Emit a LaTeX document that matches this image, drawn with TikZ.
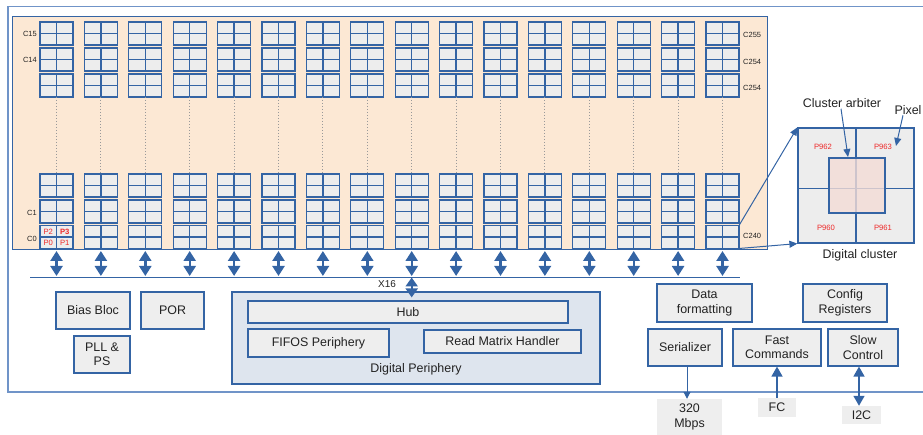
\documentclass[tikz,border=0pt]{standalone}
\usepackage{fontspec}
\setmainfont{Liberation Sans}
\usetikzlibrary{arrows.meta,calc}
\definecolor{bl}{HTML}{3464A4}
\definecolor{outerbl}{HTML}{7094C8}
\definecolor{peach}{HTML}{FCE8D4}
\definecolor{cellg}{HTML}{EDEDED}
\definecolor{boxg}{HTML}{EEEEEE}
\definecolor{dpf}{HTML}{DEE5EE}
\definecolor{pinkf}{HTML}{F4DCD6}
\definecolor{pred}{HTML}{EE2A2A}
\definecolor{txt}{HTML}{222222}
\begin{document}
\begin{tikzpicture}[x=1bp,y=-1bp,
  font=\fontsize{12.5}{14.5}\selectfont,
  box/.style={draw=bl, fill=boxg, line width=1.2bp, inner sep=0pt, align=center, text=txt},
  iobox/.style={fill=boxg, inner sep=0pt, align=center, text=txt},
  clus/.style={draw=bl, fill=cellg, line width=1.3bp, minimum width=33bp, minimum height=23bp, inner sep=0pt, outer sep=0pt,
    path picture={\draw[bl, line width=1.3bp] (path picture bounding box.north) -- (path picture bounding box.south)
      (path picture bounding box.west) -- (path picture bounding box.east);}},
  small/.style={font=\fontsize{7.5}{9}\selectfont, text=txt, inner sep=0pt},
  plab/.style={font=\fontsize{7.7}{9}\selectfont, text=pred, inner sep=0pt},
  dots/.style={draw=gray!80, line width=0.9bp, dash pattern=on 1bp off 2bp},
  dbl/.style={draw=bl, line width=2.4bp, {Triangle[width=12bp,length=10bp]}-{Triangle[width=12bp,length=10bp]}},
  dblsm/.style={draw=bl, line width=2.4bp, {Triangle[width=12bp,length=9bp]}-{Triangle[width=12bp,length=9bp]}},
  thinarr/.style={draw=bl, line width=1bp, -{Triangle[width=7bp,length=8bp]}},
  midarr/.style={draw=bl, line width=1.5bp, -{Triangle[width=11bp,length=10bp]}},
  middbl/.style={draw=bl, line width=1.5bp, {Triangle[width=11bp,length=10bp]}-{Triangle[width=11bp,length=10bp]}},
]
\useasboundingbox (0,0) rectangle (923,435);
% outer frame
\draw[draw=outerbl, line width=1.5bp] (923,6.5) -- (8,6.5) -- (8,392) -- (923,392);
% matrix area
\node[draw=bl, fill=peach, line width=1bp, minimum width=754bp, minimum height=233bp, inner sep=0pt] (mat) at (390,133.5) {};
% clusters
\foreach \i in {0,...,15}{
  \foreach \r/\yc in {0/33.5,1/59.5,2/85.5,3/185.5,4/211.5,5/237}{
    \node[clus] (c\i-\r) at ({56.5+44.4*\i},\yc) {};
  }
  \draw[dots] (c\i-2.south) -- (c\i-3.north);
  \coordinate (b\i) at ({56.5+44.4*\i},276);
  \draw[dbl, shorten <=2.5bp] (c\i-5.south) -- (b\i);
}
% row labels
\node[small, anchor=east] (l15) at (37,33.5) {C15};
\node[small, anchor=east] (l14) at (37,59.5) {C14};
\node[small, anchor=east] (l1) at (37,213) {C1};
\node[small, anchor=east] (l0) at (37,239) {C0};
\node[small, anchor=west] (r255) at (743,35) {C255};
\node[small, anchor=west] (r254a) at (743,61.5) {C254};
\node[small, anchor=west] (r254b) at (743,87.5) {C254};
\node[small, anchor=west] (r240) at (743,236) {C240};
% pixel labels in C0
\node[plab] (p2) at ($(c0-5.center)+(-8.25,-5.5)$) {P2};
\node[plab, font=\fontsize{7.7}{9}\selectfont\bfseries] (p3) at ($(c0-5.center)+(8.25,-5.5)$) {P3};
\node[plab] (p0) at ($(c0-5.center)+(-8.25,5.5)$) {P0};
\node[plab] (p1) at ($(c0-5.center)+(8.25,5.5)$) {P1};
% bus
\coordinate (busL) at (30,277.5);
\coordinate (busR) at (740,277.5);
\draw[bl, line width=1.5bp] (busL) -- (busR);
\node[font=\fontsize{10}{12}\selectfont, text=txt, inner sep=0pt] (x16) at (387,284.5) {X16};
% left blocks
\node[box, minimum width=74bp, minimum height=37bp] (bias) at (93,310.5) {Bias Bloc};
\node[box, minimum width=63bp, minimum height=37bp] (por) at (172.5,310.5) {POR};
\node[box, minimum width=56bp, minimum height=37bp] (pll) at (102,354.5) {PLL \&\\PS};
% digital periphery
\node[draw=bl, fill=dpf, line width=1.2bp, minimum width=368bp, minimum height=92bp, inner sep=0pt] (dp) at (416,338) {};
\node[text=txt, inner sep=0pt] (dplab) at (416,369.5) {Digital Periphery};
\node[box, minimum width=320bp, minimum height=22bp] (hub) at (408,312) {Hub};
\node[box, minimum width=141bp, minimum height=28bp] (fifo) at (318.5,343) {FIFOS Periphery};
\node[box, minimum width=157bp, minimum height=23bp] (rmh) at (502.5,341.5) {Read Matrix Handler};
\coordinate (dpin) at ($(b8 |- dp.north)+(0,6)$);
\draw[dblsm] (b8 |- busL) -- (dpin);
% right blocks
\node[box, minimum width=95bp, minimum height=38bp] (dfmt) at (704.5,303) {Data\\formatting};
\node[box, minimum width=84bp, minimum height=38bp] (cfg) at (845,303) {Config\\Registers};
\node[box, minimum width=74bp, minimum height=37bp] (ser) at (685,347.5) {Serializer};
\node[box, minimum width=88bp, minimum height=37bp] (fast) at (777,347.5) {Fast\\Commands};
\node[box, minimum width=70bp, minimum height=37bp] (slow) at (863,347.5) {Slow\\Control};
% io
\node[iobox, minimum width=65bp, minimum height=36bp] (mbps) at (689.5,417) {320\\Mbps};
\node[iobox, minimum width=38bp, minimum height=19bp] (fc) at (777,407.5) {FC};
\node[iobox, minimum width=39bp, minimum height=18bp] (i2c) at (861.5,415) {I2C};
\draw[bl, line width=1bp, -{Triangle[width=7bp,length=7bp]}] ([xshift=2bp]ser.south) -- ([xshift=2bp]ser.south |- mbps.north);
\draw[midarr] (fc.north) -- (fc.north |- fast.south);
\draw[middbl] ([xshift=-4bp]slow.south) -- ([xshift=-4bp]slow.south |- i2c.north);
% digital cluster
\node[draw=bl, fill=cellg, line width=1.2bp, minimum width=116bp, minimum height=115bp, inner sep=0pt] (dc) at (856,185.5) {};
\draw[bl, line width=1.2bp] (dc.north) -- (dc.south);
\draw[bl, line width=1.2bp] (dc.west |- 0,188.5) -- (dc.east |- 0,188.5);
\node[draw=bl, fill=pinkf, fill opacity=0.8, line width=1.2bp, minimum width=56bp, minimum height=55bp, inner sep=0pt] (arb) at (857,185.5) {};
\node[plab] (p962) at (823,147) {P962};
\node[plab] (p963) at (883,147) {P963};
\node[plab] (p960) at (826,228) {P960};
\node[plab] (p961) at (883,228) {P961};
\node[text=txt, inner sep=0pt] (arbtxt) at (842,103) {Cluster arbiter};
\node[text=txt, inner sep=0pt] (pixtxt) at (908,110.5) {Pixel};
\node[text=txt, inner sep=0pt] (dctxt) at (860,255.5) {Digital cluster};
\coordinate (arbtip) at (848,157);
\coordinate (pixtip) at (896,146);
\draw[thinarr] ([xshift=-1bp,yshift=-1bp]arbtxt.south) -- (arbtip);
\draw[thinarr] ([xshift=-5bp]pixtxt.south) -- (pixtip);
\draw[thinarr] (c15-5.north east) -- (dc.north west);
\draw[thinarr] (c15-5.south east) -- (dc.south west);
\end{tikzpicture}
\end{document}
